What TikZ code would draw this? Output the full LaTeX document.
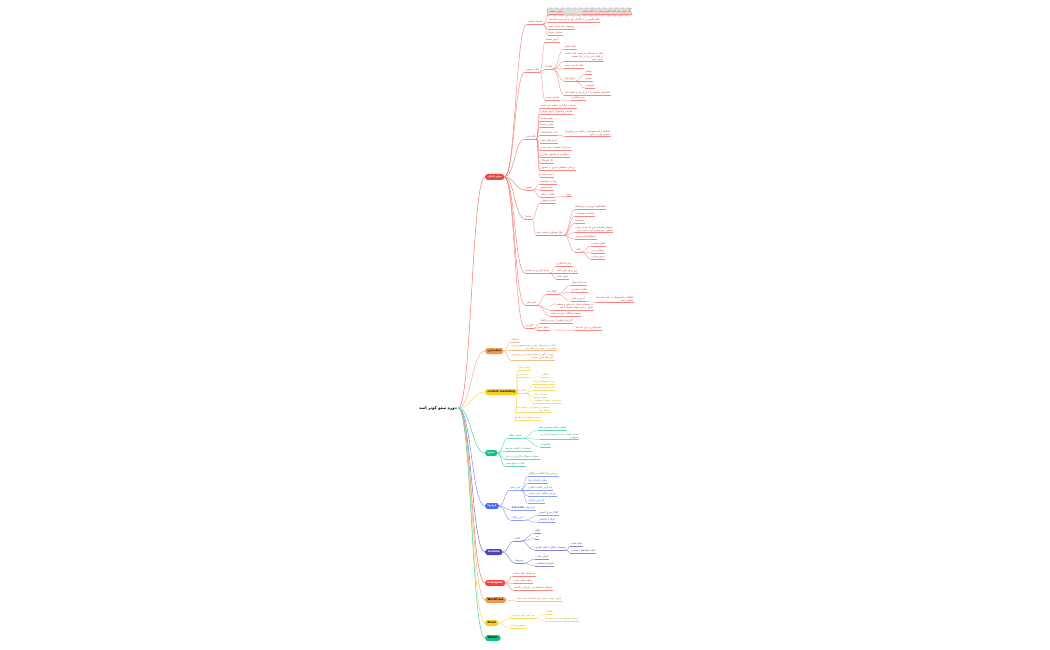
\documentclass[tikz,border=0pt]{standalone}
\usepackage{fontspec}
\setmainfont{DejaVu Sans}
\newfontfamily\arabicfont[Script=Arabic]{DejaVu Sans}
\TeXXeTstate=1
\usetikzlibrary{calc}
\newcommand\fa[1]{{\arabicfont\beginR #1\endR}}

\definecolor{mR}{HTML}{F2463C}
\definecolor{mO}{HTML}{F29A4A}
\definecolor{mY}{HTML}{F5CE1E}
\definecolor{mG}{HTML}{14C27E}
\definecolor{mB}{HTML}{4D6BF0}
\definecolor{mP}{HTML}{4A46B8}

\tikzset{
  root/.style={font=\fontsize{4}{5}\selectfont\bfseries, inner sep=1pt},
  topic/.style={anchor=west, fill=#1, rounded corners=2.6pt, minimum height=6pt,
    inner xsep=2.5pt, inner ysep=0.6pt, font=\fontsize{2.6}{3}\selectfont\bfseries, text=white},
  leaf/.style={anchor=west, inner xsep=0.5pt, inner ysep=0.6pt, align=right,
    font=\fontsize{2.5}{3}\selectfont, text=#1!80!black,
    append after command={(\tikzlastnode.south west) edge[draw=#1!65, line width=.25pt] (\tikzlastnode.south east)}},
  hibox/.style={anchor=west, draw=gray!70!black, dashed, fill=gray!25, rounded corners=1pt,
    minimum width=84pt, minimum height=8pt, inner sep=0pt},
  link/.style={draw=#1!70, line width=.3pt,
    to path={let \p1=(\tikztostart), \p2=(\tikztotarget) in
      .. controls ({.5*\x1+.5*\x2},\y1) and ({.5*\x1+.5*\x2},\y2) .. (\tikztotarget)}},
}

\begin{document}
\begin{tikzpicture}[x=1pt, y=-1pt]
    \useasboundingbox (0,0) rectangle (1050,650);

    \node[root] (root) at (438,408) {\fa{دوره سئو کوثر اسد}};

    % main topics
    \node[topic=mR] (red) at (485,177) {\fa{سئو داخلی}};
    \node[topic=mO, text=black] (lnk) at (485,351) {\fa{لینک‌سازی}};
    \node[topic=mY, text=black] (cont) at (485,392) {content marketing};
    \node[topic=mG] (blog) at (485,453) {\fa{محتوا}};
    \node[topic=mB] (tool) at (485,506) {\fa{ابزارها}};
    \node[topic=mP] (yt) at (485,552) {YouTube};
    \node[topic=mR] (insta) at (485,583) {Instagram};
    \node[topic=mO, text=black] (wp) at (485,600) {WordPress};
    \node[topic=mY, text=black] (mail) at (485,623) {Email};
    \node[topic=mG, text=black] (tw) at (485,638) {Twitter};

    \foreach \m/\c in {red/mR, lnk/mO, cont/mY, blog/mG, tool/mB, yt/mP, insta/mR, wp/mO, mail/mY, tw/mG}
        \draw[link=\c, line width=.55pt] (root.east) to (\m.west);

    % red branch
    \node[leaf=mR] (r1) at (527,22) {\fa{محتوای صفحه}};
    \node[hibox] (hb) at (547,12) {};
    \node[leaf=mR] (r1a) at (549,12) {\fa{عنوان صفحه}};
    \node[leaf=mR] (r1a1) at (582,12) {\fa{تگ عنوان باید کلمه کلیدی اصلی را داشته باشد}};
    \node[leaf=mR] (r1b) at (548,20) {\fa{کلمه کلیدی در پاراگراف اول و آخر متن حتما بیاید}};
    \node[leaf=mR] (r1c) at (548,27) {\fa{توضیحات متا جذاب باشد}};
    \node[leaf=mR] (r1d) at (548,33) {\fa{ساختار تیترها}};

    \node[leaf=mR] (r2) at (525,70) {\fa{لینک و تصویر}};
    \node[leaf=mR] (r2a) at (545,40) {\fa{آدرس صفحه}};
    \node[leaf=mR] (r2b) at (545,67) {\fa{لینک‌ها}};
    \node[leaf=mR] (r2b1) at (564,47) {\fa{لینک داخلی}};
    \node[leaf=mR] (r2b2) at (564,56.5) {\fa{لینک به صفحات مرتبط با انکر تکست}\\\fa{از لینک دادن زیاد در یک صفحه}\\\fa{پرهیز شود}};
    \node[leaf=mR] (r2b3) at (564,66) {\fa{لینک خارجی معتبر}};
    \node[leaf=mR] (r2b4) at (564,79) {\fa{انواع لینک}};
    \node[leaf=mR] (r2b4a) at (585,72) {\fa{نوفالو}};
    \node[leaf=mR] (r2b4b) at (585,79) {\fa{دوفالو}};
    \node[leaf=mR] (r2b4c) at (585,86) {\fa{اسپانسر}};
    \node[leaf=mR] (r2b5) at (564,93) {\fa{لینک‌های شکسته را با ابزار پیدا و اصلاح کنید}};
    \node[leaf=mR] (r2c) at (545,98) {\fa{تصاویر سایت}};
    \node[leaf=mR] (r2c1) at (571,98) {\fa{متن جایگزین}};

    \node[leaf=mR] (r3) at (525,137) {\fa{نکات فنی}};
    \node[leaf=mR] (r3a) at (540,106) {\fa{سرعت بارگذاری صفحه مهم است}};
    \node[leaf=mR] (r3b) at (540,112) {\fa{طراحی واکنش‌گرا برای موبایل}};
    \node[leaf=mR] (r3c) at (540,119) {\fa{نقشه سایت}};
    \node[leaf=mR] (r3d) at (540,125) {\fa{فایل ربات‌ها}};
    \node[leaf=mR] (r3e) at (540,133) {\fa{داده ساختاریافته}};
    \node[leaf=mR] (r3e1) at (565,133) {\fa{اسکیما برای محصولات، مقالات و پرسش‌ها}\\\fa{نمایش بهتر در نتایج}};
    \node[leaf=mR] (r3f) at (540,141) {\fa{آدرس‌های کوتاه}};
    \node[leaf=mR] (r3g) at (540,148) {\fa{ریدایرکت صفحات حذف شده}};
    \node[leaf=mR] (r3h) at (540,155) {\fa{جلوگیری از محتوای تکراری}};
    \node[leaf=mR] (r3i) at (540,161) {\fa{تگ کنونیکال}};
    \node[leaf=mR] (r3j) at (540,168) {\fa{بررسی خطاهای خزش در کنسول}};
    \node[leaf=mR] (r3k) at (540,175) {\fa{امنیت سایت}};

    \node[leaf=mR] (r4) at (525,188) {\fa{تحقیق}};
    \node[leaf=mR] (r4a) at (540,182) {\fa{رقبا را بشناسید}};
    \node[leaf=mR] (r4b) at (540,188) {\fa{نیت جستجو}};
    \node[leaf=mR] (r4c) at (540,195) {\fa{کلمات دم‌بلند}};
    \node[leaf=mR] (r4c1) at (566,195) {\fa{مهم}};

    \node[leaf=mR] (r5) at (525,217) {\fa{محتوا}};
    \node[leaf=mR] (r5a) at (540,201) {\fa{تقویم محتوایی}};
    \node[leaf=mR] (r5b) at (536,233) {\fa{انواع محتوای مناسب سئو}};
    \node[leaf=mR] (r5b1) at (575,207) {\fa{مقاله‌های آموزشی و راهنماها}};
    \node[leaf=mR] (r5b2) at (575,214) {\fa{مقایسه محصولات}};
    \node[leaf=mR] (r5b3) at (575,221) {\fa{لیست‌ها}};
    \node[leaf=mR] (r5b4) at (575,229) {\fa{محتوای همیشه سبز که بعد از مدتی}\\\fa{قدیمی نمی‌شود و بازدید ثابت دارد}};
    \node[leaf=mR] (r5b5) at (575,237) {\fa{اینفوگرافیک و ویدیو}};
    \node[leaf=mR] (r5b6) at (575,250) {\fa{نکات}};
    \node[leaf=mR] (r5b6a) at (591,244) {\fa{طول مناسب}};
    \node[leaf=mR] (r5b6b) at (591,251) {\fa{خوانایی متن}};
    \node[leaf=mR] (r5b6c) at (591,257) {\fa{به‌روزرسانی}};

    \node[leaf=mR] (r6) at (525,271) {\fa{تجربه کاربری در سایت}};
    \node[leaf=mR] (r6a) at (556,264) {\fa{زمان ماندگاری}};
    \node[leaf=mR] (r6b) at (556,271) {\fa{نرخ پرش پایین باشد}};
    \node[leaf=mR] (r6c) at (556,277) {\fa{منوی ساده}};

    \node[leaf=mR] (r7) at (525,303) {\fa{سئو محلی}};
    \node[leaf=mR] (r7a) at (546,292) {\fa{گوگل مپ}};
    \node[leaf=mR] (r7a1) at (571,283) {\fa{ثبت کسب‌وکار}};
    \node[leaf=mR] (r7a2) at (571,290) {\fa{نظرات مشتری}};
    \node[leaf=mR] (r7a3) at (571,299) {\fa{آدرس و تلفن}};
    \node[leaf=mR] (r7a3a) at (596,299) {\fa{اطلاعات کسب‌وکار در همه سایت‌ها}\\\fa{یکسان باشد}};
    \node[leaf=mR] (r7b) at (550,306.5) {\fa{در صفحات محلی نام شهر و منطقه را در}\\\fa{عنوان و متن صفحه استفاده کنید}};
    \node[leaf=mR] (r7c) at (550,314) {\fa{صفحه جداگانه برای هر شعبه}};

    \node[leaf=mR] (r8) at (525,326) {\fa{گزارش}};
    \node[leaf=mR] (r8a) at (540,321) {\fa{گزارش ماهانه از رتبه و ترافیک}};
    \node[leaf=mR] (r8b) at (537,328) {\fa{تحلیل نتایج}};
    \node[leaf=mR] (r8b1) at (575,328) {\fa{تصمیم‌گیری برای ماه بعد}};

    \foreach \c in {r1,r2,r3,r4,r5,r6,r7,r8}
        \draw[link=mR, line width=.45pt] (red.east) to (\c.south west);
    \foreach \p/\c in {r1/r1a, r1/r1b, r1/r1c, r1/r1d, r1a/r1a1,
                       r2/r2a, r2/r2b, r2/r2c, r2b/r2b1, r2b/r2b2, r2b/r2b3, r2b/r2b4, r2b/r2b5,
                       r2b4/r2b4a, r2b4/r2b4b, r2b4/r2b4c, r2c/r2c1,
                       r3/r3a, r3/r3b, r3/r3c, r3/r3d, r3/r3e, r3/r3f, r3/r3g, r3/r3h, r3/r3i, r3/r3j, r3/r3k, r3e/r3e1,
                       r4/r4a, r4/r4b, r4/r4c, r4c/r4c1,
                       r5/r5a, r5/r5b, r5b/r5b1, r5b/r5b2, r5b/r5b3, r5b/r5b4, r5b/r5b5, r5b/r5b6,
                       r5b6/r5b6a, r5b6/r5b6b, r5b6/r5b6c,
                       r6/r6a, r6/r6b, r6/r6c,
                       r7/r7a, r7/r7b, r7/r7c, r7a/r7a1, r7a/r7a2, r7a/r7a3, r7a3/r7a3a,
                       r8/r8a, r8/r8b, r8b/r8b1}
        \draw[link=mR] (\p.south east) to (\c.south west);

    % orange branch
    \node[leaf=mO] (o1) at (511,340) {\fa{بک‌لینک}};
    \node[leaf=mO] (o2) at (511,347) {\fa{لینک از سایت‌های معتبر و هم‌موضوع ارزش}\\\fa{بیشتری از تعداد زیاد لینک دارد}};
    \node[leaf=mO] (o3) at (511,356.5) {\fa{رپورتاژ آگهی و مهمان‌نویسی از روش‌های}\\\fa{رایج لینک‌سازی هستند}};
    \foreach \c in {o1,o2,o3}
        \draw[link=mO, line width=.45pt] (lnk.east) to (\c.south west);

    % yellow branch
    \node[leaf=mY] (y1) at (518,368) {\fa{تولید محتوا}};
    \node[leaf=mY] (y2) at (516,375) {\fa{برنامه‌ریزی}};
    \node[leaf=mY] (y2a) at (541,375) {\fa{هفتگی}};
    \node[leaf=mY] (y3) at (518,391) {\fa{قالب‌ها}};
    \node[leaf=mY] (y3a) at (533,382) {\fa{پست آموزشی کوتاه}};
    \node[leaf=mY] (y3b) at (533,388) {\fa{نکات کاربردی روزانه}};
    \node[leaf=mY] (y3c) at (533,395) {\fa{معرفی ابزار}};
    \node[leaf=mY] (y3d) at (533,401) {\fa{پرسش و پاسخ با مخاطبان}};
    \node[leaf=mY] (y4) at (515,409) {\fa{استفاده از داستان در محتوا باعث}\\\fa{ارتباط بهتر}};
    \node[leaf=mY] (y5) at (515,418) {\fa{بازنشر محتوا در شبکه‌ها}};
    \foreach \c in {y1,y2,y3,y4,y5}
        \draw[link=mY, line width=.45pt] (cont.east) to (\c.south west);
    \foreach \p/\c in {y2/y2a, y3/y3a, y3/y3b, y3/y3c, y3/y3d}
        \draw[link=mY] (\p.south east) to (\c.south west);

    % green branch
    \node[leaf=mG] (g1) at (508,436) {\fa{نوشتن مقاله}};
    \node[leaf=mG] (g1a) at (538,428) {\fa{ساختار مقاله مشخص باشد}};
    \node[leaf=mG] (g1b) at (540,436) {\fa{مقدمه کوتاه، بدنه با تیترهای فرعی و}\\\fa{جمع‌بندی}};
    \node[leaf=mG] (g1c) at (540,445) {\fa{چک‌لیست}};
    \node[leaf=mG] (g2) at (505,449) {\fa{استفاده از کلمات مرتبط}};
    \node[leaf=mG] (g3) at (505,457) {\fa{پاسخ به سوالات کاربران در متن}};
    \node[leaf=mG] (g4) at (505,464) {\fa{لینک به منابع معتبر}};
    \foreach \c in {g1,g2,g3,g4}
        \draw[link=mG, line width=.45pt] (blog.east) to (\c.south west);
    \foreach \c in {g1a,g1b,g1c}
        \draw[link=mG] (g1.south east) to (\c.south west);

    % blue branch
    \node[leaf=mB] (b1) at (510,488) {\fa{ابزار سئو}};
    \node[leaf=mB] (b1a) at (528,474) {\fa{بررسی رتبه کلمات در گوگل}};
    \node[leaf=mB] (b1b) at (528,481) {\fa{تحلیل بک‌لینک رقبا}};
    \node[leaf=mB] (b1c) at (528,488) {\fa{پیدا کردن کلمات کلیدی}};
    \node[leaf=mB] (b1d) at (528,494) {\fa{بررسی سلامت فنی سایت}};
    \node[leaf=mB] (b1e) at (528,501) {\fa{گزارش ترافیک}};
    \node[leaf=mB] (b2) at (511,508) {\beginR\fa{ابزار پولی} \beginL\textbf{Semrush}\endL\endR};
    \node[leaf=mB] (b3) at (511,518) {\fa{ابزار رایگان}};
    \node[leaf=mB] (b3a) at (538,513) {\fa{گوگل سرچ کنسول}};
    \node[leaf=mB] (b3b) at (538,520) {\fa{گوگل آنالیتیکس}};
    \foreach \c in {b1,b2,b3}
        \draw[link=mB, line width=.45pt] (tool.east) to (\c.south west);
    \foreach \p/\c in {b1/b1a, b1/b1b, b1/b1c, b1/b1d, b1/b1e, b3/b3a, b3/b3b}
        \draw[link=mB] (\p.south east) to (\c.south west);

    % purple branch
    \node[leaf=mP] (p1) at (514,539) {\fa{کانال}};
    \node[leaf=mP] (p1a) at (535,531) {\fa{لوگو}};
    \node[leaf=mP] (p1b) at (535,537) {\fa{بنر}};
    \node[leaf=mP] (p1c) at (535,548) {\fa{توضیحات کانال با کلمه کلیدی}};
    \node[leaf=mP] (p1c1) at (570,544) {\fa{لینک سایت}};
    \node[leaf=mP] (p1c2) at (570,551) {\fa{لینک شبکه‌های اجتماعی}};
    \node[leaf=mP] (p2) at (515,561) {\fa{ویدیوها}};
    \node[leaf=mP] (p2a) at (535,557) {\fa{عنوان جذاب}};
    \node[leaf=mP] (p2b) at (535,564) {\fa{تامبنیل اختصاصی}};
    \foreach \c in {p1,p2}
        \draw[link=mP, line width=.45pt] (yt.east) to (\c.south west);
    \foreach \p/\c in {p1/p1a, p1/p1b, p1/p1c, p1c/p1c1, p1c/p1c2, p2/p2a, p2/p2b}
        \draw[link=mP] (\p.south east) to (\c.south west);

    % instagram, wordpress, email
    \node[leaf=mR] (i1) at (513,574) {\fa{بیو شامل لینک سایت}};
    \node[leaf=mR] (i2) at (513,581) {\fa{هایلایت‌های مرتب}};
    \node[leaf=mR] (i3) at (513,588) {\fa{ارتباط با مخاطب در دایرکت و کامنت}};
    \foreach \c in {i1,i2,i3}
        \draw[link=mR, line width=.45pt] (insta.east) to (\c.south west);

    \node[leaf=mO] (w1) at (516,599) {\fa{افزونه یوست برای سئو صفحات نصب شود}};
    \draw[link=mO, line width=.45pt] (wp.east) to (w1.south west);

    \node[leaf=mY] (e1) at (510,616) {\fa{خبرنامه برای مشترکین}};
    \node[leaf=mY] (e1a) at (545,612) {\fa{هفتگی}};
    \node[leaf=mY] (e1b) at (545,619) {\fa{ارسال محتوای جدید و تخفیف‌ها}};
    \node[leaf=mY] (e2) at (510,626) {\fa{جمع‌آوری ایمیل}};
    \foreach \c in {e1,e2}
        \draw[link=mY, line width=.45pt] (mail.east) to (\c.south west);
    \foreach \c in {e1a,e1b}
        \draw[link=mY] (e1.south east) to (\c.south west);
\end{tikzpicture}
\end{document}
